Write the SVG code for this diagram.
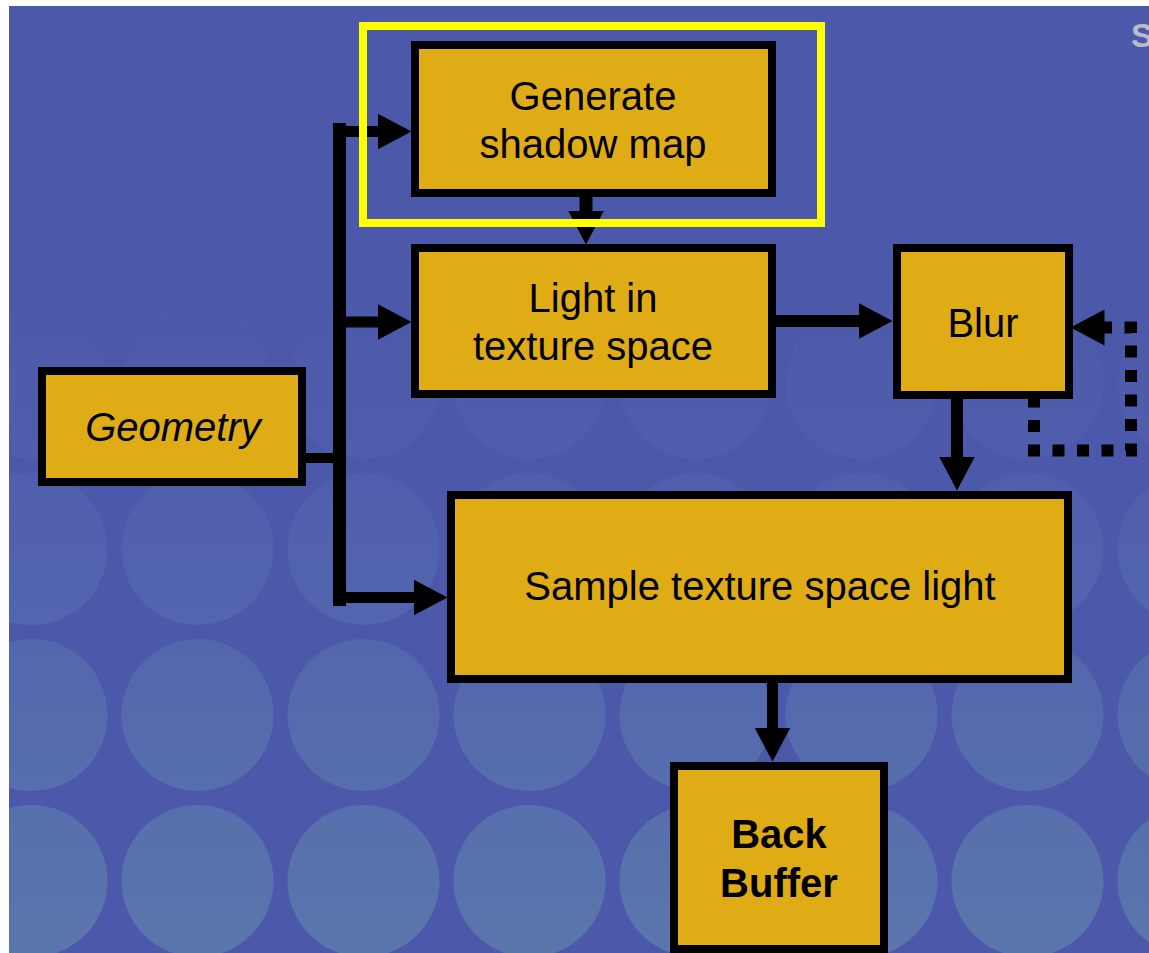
<svg xmlns="http://www.w3.org/2000/svg" width="1149" height="953" viewBox="0 0 1149 953">
<defs>
<linearGradient id="circGrad" gradientUnits="userSpaceOnUse" x1="0" y1="260" x2="0" y2="953">
<stop offset="0" stop-color="#4C58A9"/>
<stop offset="0.4" stop-color="#5161AE"/>
<stop offset="1" stop-color="#5A77AC"/>
</linearGradient>
<marker id="ah" markerUnits="userSpaceOnUse" viewBox="0 0 34 36" markerWidth="34" markerHeight="36" refX="0.5" refY="18" orient="auto">
<path d="M0,0 L34,18 L0,36 Z" fill="#000"/>
</marker>
</defs>
<style>
.node rect{fill:#DFAC15;stroke:#000;stroke-width:8}
.lbl{font-family:"Liberation Sans",Arial,sans-serif;font-size:40px;fill:#000;text-anchor:middle}
.conn{fill:none;stroke:#000;stroke-linecap:butt;stroke-linejoin:miter}
.bgc{fill:url(#circGrad)}
</style>
<rect x="0" y="0" width="1149" height="953" fill="#FFFFFF"/>
<g id="background">
<rect x="9" y="6" width="1140" height="947" fill="#4C58A9"/>
<g class="bgc">
<circle cx="31.5" cy="383" r="76"/><circle cx="197.5" cy="383" r="76"/><circle cx="363.5" cy="383" r="76"/><circle cx="529.5" cy="383" r="76"/><circle cx="695.5" cy="383" r="76"/><circle cx="861.5" cy="383" r="76"/><circle cx="1027.5" cy="383" r="76"/><circle cx="1193.5" cy="383" r="76"/>
<circle cx="31.5" cy="549" r="76"/><circle cx="197.5" cy="549" r="76"/><circle cx="363.5" cy="549" r="76"/><circle cx="529.5" cy="549" r="76"/><circle cx="695.5" cy="549" r="76"/><circle cx="861.5" cy="549" r="76"/><circle cx="1027.5" cy="549" r="76"/><circle cx="1193.5" cy="549" r="76"/>
<circle cx="31.5" cy="715" r="76"/><circle cx="197.5" cy="715" r="76"/><circle cx="363.5" cy="715" r="76"/><circle cx="529.5" cy="715" r="76"/><circle cx="695.5" cy="715" r="76"/><circle cx="861.5" cy="715" r="76"/><circle cx="1027.5" cy="715" r="76"/><circle cx="1193.5" cy="715" r="76"/>
<circle cx="31.5" cy="881" r="76"/><circle cx="197.5" cy="881" r="76"/><circle cx="363.5" cy="881" r="76"/><circle cx="529.5" cy="881" r="76"/><circle cx="695.5" cy="881" r="76"/><circle cx="861.5" cy="881" r="76"/><circle cx="1027.5" cy="881" r="76"/><circle cx="1193.5" cy="881" r="76"/>
</g>
<rect x="0" y="0" width="9" height="953" fill="#FFFFFF"/>
<rect x="0" y="0" width="1149" height="6" fill="#FFFFFF"/>
<text x="1131" y="47" font-family="'Liberation Sans',Arial,sans-serif" font-size="33" font-weight="bold" fill="#B9BCCB">S</text>
</g>
<g id="connectors">
<path class="conn" d="M306,458 H340" stroke-width="10"/>
<path class="conn" d="M339.5,123 V606" stroke-width="13"/>
<path class="conn" d="M346,131.5 H378" stroke-width="11" marker-end="url(#ah)"/>
<path class="conn" d="M346,322 H378" stroke-width="11" marker-end="url(#ah)"/>
<path class="conn" d="M346,597.5 H414" stroke-width="11" marker-end="url(#ah)"/>
<path class="conn" d="M586,197 V211" stroke-width="13" marker-end="url(#ah)"/>
<path class="conn" d="M776,321 H859" stroke-width="12" marker-end="url(#ah)"/>
<path class="conn" d="M957,399 V457" stroke-width="12" marker-end="url(#ah)"/>
<path class="conn" d="M772.5,683 V728" stroke-width="11" marker-end="url(#ah)"/>
<path class="conn" d="M1034,395.5 V450.5 H1131 V327.5 H1104" stroke-width="12" stroke-dasharray="12 12.5" marker-end="url(#ah)"/>
</g>
<g id="node-geometry" class="node">
<rect x="42" y="371" width="260" height="111"/>
<text class="lbl" x="173" y="441" font-style="italic">Geometry</text>
</g>
<g id="node-generate" class="node">
<rect x="415" y="45" width="357" height="148"/>
<text class="lbl" x="593" y="110">Generate</text>
<text class="lbl" x="593" y="158">shadow map</text>
</g>
<g id="node-light" class="node">
<rect x="415" y="248" width="357" height="146"/>
<text class="lbl" x="593" y="312">Light in</text>
<text class="lbl" x="593" y="360">texture space</text>
</g>
<g id="node-blur" class="node">
<rect x="897" y="248" width="172" height="147"/>
<text class="lbl" x="983" y="337">Blur</text>
</g>
<g id="node-sample" class="node">
<rect x="451" y="495" width="617" height="184"/>
<text class="lbl" x="760" y="600">Sample texture space light</text>
</g>
<g id="node-backbuffer" class="node">
<rect x="674" y="766" width="210" height="183"/>
<text class="lbl" x="779" y="848" font-weight="bold" font-size="38">Back</text>
<text class="lbl" x="779" y="897" font-weight="bold" font-size="38">Buffer</text>
</g>
<g id="highlight">
<rect x="363" y="26" width="458" height="197" fill="none" stroke="#FFFF00" stroke-width="8"/>
</g>
</svg>
